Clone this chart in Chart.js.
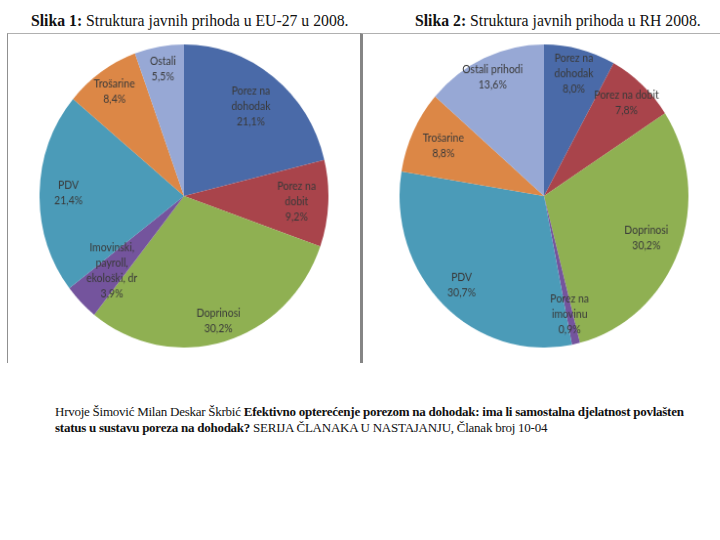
<!DOCTYPE html>
<html>
<head>
<meta charset="utf-8">
<script src="https://cdn.jsdelivr.net/npm/chart.js@4/dist/chart.umd.min.js"></script>
<style>
    html, body { margin: 0; padding: 0; background: #fff; }
    #page { position: relative; width: 720px; height: 540px; overflow: hidden; }
    .title {
        position: absolute; top: 11px; white-space: nowrap;
        font-family: "Liberation Serif", "Times New Roman", serif;
        font-size: 17px; color: #111; transform: scaleX(0.925); transform-origin: 0 0;
    }
    .frame { position: absolute; top: 33px; height: 329px; border-top: 1px solid #b0b0b0; }
    #frame1 { left: 7px; width: 353px; border-left: 1px solid #909090; }
    #frame2 { left: 360px; width: 360px; border-left: 3px solid #858585; }
    .pie { position: absolute; width: 296px; height: 296px; transform: scale(0.976, 1.024); }
    #pie1 { left: 36px; top: 48px; }
    #pie2 { left: 396px; top: 48px; }
    #footer {
        position: absolute; left: 55px; top: 404px; width: 700px;
        font-family: "Liberation Serif", "Times New Roman", serif;
        font-size: 13px; line-height: 16px; color: #111;
        letter-spacing: -0.25px;
    }
</style>
</head>
<body>
<div id="page">
    <div class="title" id="t1" style="left:31px"><b>Slika 1:</b> Struktura javnih prihoda u EU-27 u 2008.</div>
    <div class="title" id="t2" style="left:415px"><b>Slika 2:</b> Struktura javnih prihoda u RH 2008.</div>
    <div class="frame" id="frame1"></div>
    <div class="frame" id="frame2"></div>
    <div class="pie" id="pie1"><canvas id="chart1" width="296" height="296"></canvas></div>
    <div class="pie" id="pie2"><canvas id="chart2" width="296" height="296"></canvas></div>
    <div id="footer">Hrvoje Šimović Milan Deskar Škrbić <b>Efektivno opterećenje porezom na dohodak: ima li samostalna djelatnost povlašten<br>status u sustavu poreza na dohodak?</b> SERIJA ČLANAKA U NASTAJANJU, Članak broj 10-04</div>
</div>
<script>
    // Slika 1 — EU-27, 2008.
    var catsEU = [['Porez na', 'dohodak'], ['Porez na', 'dobit'], ['Doprinosi'], ['Imovinski,', 'payroll,', 'ekološki, dr'], ['PDV'], ['Trošarine'], ['Ostali']];
    var valsEU = [21.1, 9.2, 30.2, 3.9, 21.4, 8.4, 5.5];

    // Slika 2 — RH, 2008.
    var catsRH = [['Porez na', 'dohodak'], ['Porez na dobit'], ['Doprinosi'], ['Porez na', 'imovinu'], ['PDV'], ['Trošarine'], ['Ostali prihodi']];
    var valsRH = [8.0, 7.8, 30.2, 0.9, 30.7, 8.8, 13.6];

    var sliceColors = ['#4a6aa8', '#a9444b', '#8fb052', '#74549d', '#4b9bb8', '#dc8746', '#97a8d5'];

    // udaljenost natpisa od središta (udio radijusa)
    var labelPosEU = [0.75, 0.78, 0.86, 0.70, 0.80, 0.84, 0.85];
    var labelPosRH = [0.83, 0.84, 0.76, 0.80, 0.82, 0.77, 0.86];

    /* ------------------------------------------------------------------
       Natpisi unutar isječaka
    ------------------------------------------------------------------ */
    var sliceLabels = {
        id: 'sliceLabels',
        afterDatasetsDraw: function (chart, args, opts) {
            var ctx  = chart.ctx;
            var meta = chart.getDatasetMeta(0);
            var data = chart.data.datasets[0].data;
            ctx.save();
            ctx.font = '10.5px Lato, "Open Sans", sans-serif';
            ctx.fillStyle = '#3a3a3a';
            ctx.textAlign = 'center';
            ctx.textBaseline = 'middle';
            meta.data.forEach(function (arc, i) {
                var p   = arc.getProps(['x', 'y', 'startAngle', 'endAngle', 'outerRadius'], true);
                var mid = (p.startAngle + p.endAngle) / 2;
                var r   = p.outerRadius * opts.pos[i];
                var cx  = p.x + Math.cos(mid) * r;
                var cy  = p.y + Math.sin(mid) * r;
                var lines = chart.data.labels[i].concat([data[i].toFixed(1).replace('.', ',') + '%']);
                var lh = 15;
                var y0 = cy - (lines.length - 1) * lh / 2;
                lines.forEach(function (t, k) { ctx.fillText(t, cx, y0 + k * lh); });
            });
            ctx.restore();
        }
    };

    function makePie(id, cats, vals, pos) {
        return new Chart(document.getElementById(id), {
            type: 'pie',
            data: {
                labels: cats,
                datasets: [{ data: vals, backgroundColor: sliceColors, borderWidth: 0 }]
            },
            options: {
                responsive: false,
                animation: false,
                layout: { padding: 0 },
                plugins: {
                    legend: { display: false },
                    tooltip: { enabled: false },
                    sliceLabels: { pos: pos }
                }
            },
            plugins: [sliceLabels]
        });
    }

    makePie('chart1', catsEU, valsEU, labelPosEU);
    makePie('chart2', catsRH, valsRH, labelPosRH);
</script>
</body>
</html>
